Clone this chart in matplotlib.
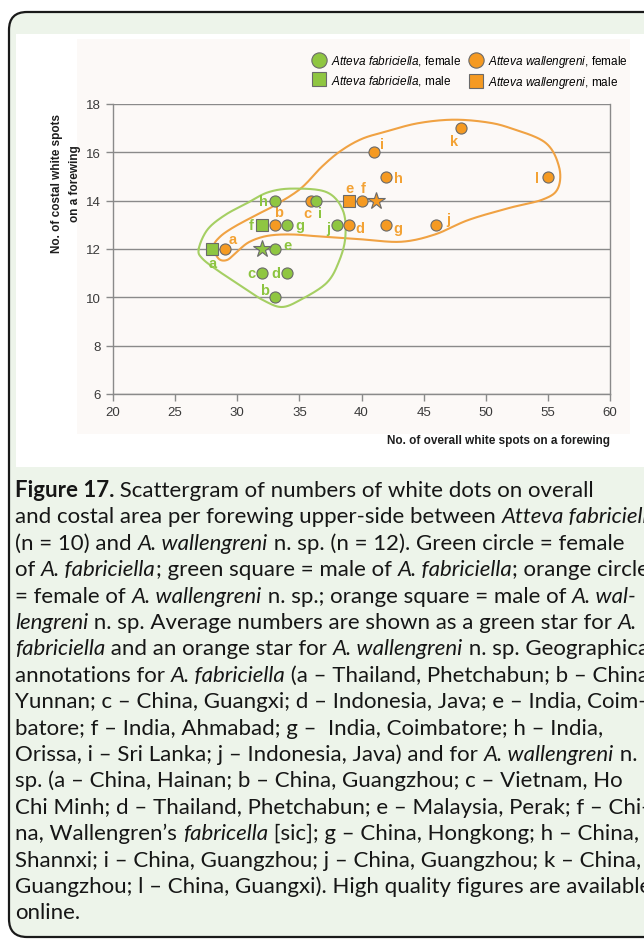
import re
import numpy as np
import matplotlib
matplotlib.use("Agg")
import matplotlib.pyplot as plt
from matplotlib.patches import FancyBboxPatch, Rectangle
from matplotlib.lines import Line2D
from matplotlib.font_manager import FontProperties

plt.rcParams['font.family'] = ['Liberation Sans', 'DejaVu Sans']
plt.rcParams['mathtext.fontset'] = 'custom'
plt.rcParams['mathtext.rm'] = 'Liberation Sans'
plt.rcParams['mathtext.it'] = 'Liberation Sans:italic'

# ---- data: A. fabriciella (green) ----
fab_labels = ['a', 'b', 'c', 'd', 'e', 'f', 'g', 'h', 'i', 'j']
fab_x = [28, 33, 32, 34, 33, 32, 34, 33, 36.3, 38]
fab_y = [12, 10, 11, 11, 12, 13, 13, 14, 14, 13]
fab_male = [True, False, False, False, False, True, False, False, False, False]
fab_mean = (32, 12)

# ---- data: A. wallengreni (orange) ----
wal_labels = ['a', 'b', 'c', 'd', 'e', 'f', 'g', 'h', 'i', 'j', 'k', 'l']
wal_x = [29, 33, 35.9, 39, 39, 40, 42, 42, 41, 46, 48, 55]
wal_y = [12, 13, 14, 13, 14, 14, 13, 15, 16, 13, 17, 15]
wal_male = [False, False, False, False, True, False, False, False, False, False, False, False]
wal_mean = (41.2, 14)

# hand-drawn enclosures (outline points)
fab_hull_x = [26.9, 27.6, 29.0, 30.8, 32.5, 34.5, 37.2, 38.5, 38.7, 38.2, 37.2, 35.1, 33.6, 32.2, 30.8, 28.6, 27.2]
fab_hull_y = [12.0, 12.8, 13.4, 13.9, 14.35, 14.5, 14.35, 13.6, 12.5, 11.5, 10.6, 9.9, 9.6, 9.85, 10.3, 11.05, 11.6]
wal_hull_x = [28.1, 28.6, 29.7, 31.5, 33.0, 35.1, 36.8, 38.3, 40.0, 41.9, 44.5, 47.3, 50.0, 52.0, 54.8, 55.9,
              55.8, 54.6, 51.9, 48.6, 45.9, 43.2, 40.0, 37.0, 34.5, 32.5, 31.0, 30.0, 29.2, 28.5]
wal_hull_y = [12.1, 12.5, 12.9, 13.4, 13.8, 14.5, 15.4, 16.05, 16.55, 16.85, 17.2, 17.35, 17.25, 17.0, 16.4, 15.4,
              14.5, 14.05, 13.7, 13.2, 12.6, 12.3, 12.4, 12.5, 12.6, 12.55, 12.3, 11.9, 11.55, 11.6]

# label offsets in points (dx, dy)
fab_off = [(0, -10), (-7, 5), (-8, 0), (-8, 0), (9, 3), (-8, 0), (9, 0), (-8, 0), (3, -9), (-6, -2)]
wal_off = [(6, 7), (3, 9), (-2, -9), (8, -2), (0, 9), (1, 9), (8, -2), (9, -1), (6, 6), (9, 4), (-5, -9), (-8, -1)]

x_ticks = [20, 25, 30, 35, 40, 45, 50, 55, 60]
y_ticks = [6, 8, 10, 12, 14, 16, 18]

caption = [
    "*Figure 17.* Scattergram of numbers of white dots on overall",
    "and costal area per forewing upper-side between _Atteva fabriciella_",
    "(n = 10) and _A. wallengreni_ n. sp. (n = 12). Green circle = female",
    "of _A. fabriciella_; green square = male of _A. fabriciella_; orange circle",
    "= female of _A. wallengreni_ n. sp.; orange square = male of _A. wal-_",
    "_lengreni_ n. sp. Average numbers are shown as a green star for _A._",
    "_fabriciella_ and an orange star for _A. wallengreni_ n. sp. Geographical",
    "annotations for _A. fabriciella_ (a – Thailand, Phetchabun; b – China,",
    "Yunnan; c – China, Guangxi; d – Indonesia, Java; e – India, Coim-",
    "batore; f – India, Ahmabad; g –  India, Coimbatore; h – India,",
    "Orissa, i – Sri Lanka; j – Indonesia, Java) and for _A. wallengreni_ n.",
    "sp. (a – China, Hainan; b – China, Guangzhou; c – Vietnam, Ho",
    "Chi Minh; d – Thailand, Phetchabun; e – Malaysia, Perak; f – Chi-",
    "na, Wallengren’s _fabricella_ [sic]; g – China, Hongkong; h – China,",
    "Shannxi; i – China, Guangzhou; j – China, Guangzhou; k – China,",
    "Guangzhou; l – China, Guangxi). High quality figures are available",
    "online.",
]

GREEN = '#8fc641'
ORANGE = '#f59a22'
GREEN_TXT = '#8cc43f'
ORANGE_TXT = '#f3a234'
EDGE = '#6a6a6a'
AXC = '#8a8a8a'


def smooth_closed(xs, ys, n=24):
    P = np.column_stack([xs, ys])
    N = len(P)
    t = np.linspace(0, 1, n, endpoint=False)[:, None]
    out = []
    for i in range(N):
        p0, p1, p2, p3 = P[i - 1], P[i], P[(i + 1) % N], P[(i + 2) % N]
        out.append(0.5 * (2 * p1 + (-p0 + p2) * t + (2 * p0 - 5 * p1 + 4 * p2 - p3) * t ** 2
                          + (-p0 + 3 * p1 - 3 * p2 + p3) * t ** 3))
    out.append(out[0][:1])
    return np.vstack(out)


W, H = 644, 945
fig = plt.figure(figsize=(W / 100, H / 100), dpi=100)

# background in pixel coordinates
bg = fig.add_axes([0, 0, 1, 1])
bg.set_xlim(0, W)
bg.set_ylim(H, 0)
bg.axis('off')
bg.add_patch(FancyBboxPatch((9, 13), 700, 925, boxstyle='round,pad=0,rounding_size=18',
                            fc='#edf4ea', ec='#1a1a1a', lw=1.6))
bg.add_patch(Rectangle((16, 35), 640, 433, fc='white', ec='none'))
bg.add_patch(Rectangle((77, 40), 553, 395, fc='#fcf9f7', ec='none'))

# caption with mixed styles (runs off the right edge as in the original page crop)
renderer = fig.canvas.get_renderer()
CAP_FS = 16
cap_x0 = 15
cap_y0 = 497
cap_dy = 26.4


def seg_width(s, fp):
    w1, _, _ = renderer.get_text_width_height_descent('|' + s + '|', fp, ismath=False)
    w2, _, _ = renderer.get_text_width_height_descent('||', fp, ismath=False)
    return w1 - w2


for li, line in enumerate(caption):
    x = cap_x0
    y = cap_y0 + li * cap_dy
    for part in re.split(r'(\*[^*]+\*|_[^_]+_)', line):
        if not part:
            continue
        style, weight = 'normal', 'normal'
        if part.startswith('*'):
            part, weight = part[1:-1], 'bold'
        elif part.startswith('_'):
            part, style = part[1:-1], 'italic'
        fp = FontProperties(family='Lato', style=style, weight=weight, size=CAP_FS)
        bg.text(x, y, part, fontproperties=fp, va='baseline', ha='left', color='#161616')
        x += seg_width(part, fp) * W / (fig.get_figwidth() * fig.dpi)

# ---- chart ----
ax = fig.add_axes([113 / W, 1 - 395 / H, 497 / W, 290 / H])
ax.set_facecolor('none')
ax.set_xlim(20, 60)
ax.set_ylim(6, 18)
ax.set_xticks(x_ticks)
ax.set_yticks(y_ticks)
ax.yaxis.grid(True, color=AXC, lw=1.0)
ax.set_axisbelow(True)
for s in ['left', 'right', 'bottom']:
    ax.spines[s].set_color(AXC)
    ax.spines[s].set_linewidth(1.0)
ax.spines['top'].set_visible(False)
ax.tick_params(direction='out', length=5, width=1, color=AXC, labelsize=9.5,
               labelcolor='#3a3a3a', pad=4)

fx = smooth_closed(fab_hull_x, fab_hull_y)
wx = smooth_closed(wal_hull_x, wal_hull_y)
ax.plot(wx[:, 0], wx[:, 1], color='#f0a243', lw=1.5, zorder=2)
ax.plot(fx[:, 0], fx[:, 1], color='#a5cf63', lw=1.5, zorder=2)


def draw_group(xs, ys, males, labels, offs, fill, tcol, z):
    for x, y, m, lab, off in zip(xs, ys, males, labels, offs):
        ax.plot(x, y, marker='s' if m else 'o', ms=8.5 if m else 8, mfc=fill, mec=EDGE,
                mew=0.8, ls='none', zorder=z)
        ax.annotate(lab, (x, y), xytext=off, textcoords='offset points', ha='center',
                    va='center', fontsize=10.5, fontweight='bold', color=tcol, zorder=z + 1)


draw_group(wal_x, wal_y, wal_male, wal_labels, wal_off, ORANGE, ORANGE_TXT, 4)
draw_group(fab_x, fab_y, fab_male, fab_labels, fab_off, GREEN, GREEN_TXT, 6)
ax.plot(*fab_mean, marker='*', ms=13, mfc=GREEN, mec=EDGE, mew=0.8, zorder=8)
ax.plot(*wal_mean, marker='*', ms=13, mfc=ORANGE, mec=EDGE, mew=0.8, zorder=8)

ax.text(1.0, -0.16, 'No. of overall white spots on a forewing', transform=ax.transAxes,
        ha='right', va='center', fontsize=8.5, fontweight='bold', color='#1e1e1e')
ax.text(-0.094, 0.73, 'No. of costal white spots\non a forewing', transform=ax.transAxes,
        rotation=90, ha='center', va='center', multialignment='center', linespacing=1.7,
        fontsize=8.5, fontweight='bold', color='#1e1e1e')

handles = [
    Line2D([], [], marker='o', ls='none', ms=11, mfc=GREEN, mec=EDGE, mew=0.8),
    Line2D([], [], marker='s', ls='none', ms=10, mfc=GREEN, mec=EDGE, mew=0.8),
    Line2D([], [], marker='o', ls='none', ms=11, mfc=ORANGE, mec=EDGE, mew=0.8),
    Line2D([], [], marker='s', ls='none', ms=10, mfc=ORANGE, mec=EDGE, mew=0.8),
]
leg_labels = [r'$\it{Atteva\ fabriciella}$, female', r'$\it{Atteva\ fabriciella}$, male',
              r'$\it{Atteva\ wallengreni}$, female', r'$\it{Atteva\ wallengreni}$, male']
fig.legend(handles, leg_labels, ncol=2, loc='upper left', bbox_to_anchor=(313 / W, 1 - 54 / H),
           frameon=False, fontsize=8.5, handlelength=1.0, handletextpad=0.55,
           columnspacing=0.7, labelspacing=0.45, borderpad=0, borderaxespad=0)

fig.savefig('out.png', dpi=100)
